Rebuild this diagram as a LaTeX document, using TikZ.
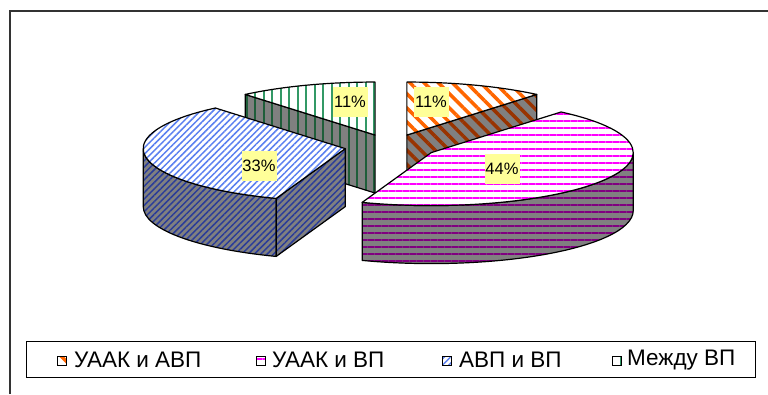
\documentclass[tikz,border=0pt]{standalone}
\usepackage{fontspec}
\setmainfont{Liberation Sans}
\usetikzlibrary{patterns.meta}
\definecolor{piegrey}{HTML}{808080}
\definecolor{labelyellow}{HTML}{FFFF99}
\definecolor{sliceorange}{HTML}{FF6600}
\definecolor{slicebrown}{HTML}{993300}
\definecolor{slicepink}{HTML}{FF00FF}
\definecolor{slicepurple}{HTML}{800080}
\definecolor{sliceblue}{HTML}{5A7FF0}
\definecolor{slicenavy}{HTML}{2A3C99}
\definecolor{slicegreen}{HTML}{339966}
\definecolor{slicedarkgreen}{HTML}{1F5E3A}
\tikzset{
  pieedge/.style={draw=black, line width=1.2pt, line join=round},
  topface/.style={pieedge, preaction={fill=white}},
  sideface/.style={pieedge, preaction={fill=piegrey}},
  pierim/.style={x radius=202pt, y radius=53pt},
  orangetop/.style={pattern={Lines[angle=-45, distance=10pt, line width=3.5pt]}, pattern color=sliceorange},
  orangeside/.style={pattern={Lines[angle=-45, distance=10pt, line width=3.5pt]}, pattern color=slicebrown},
  pinktop/.style={pattern={Lines[angle=0, distance=7pt, line width=2pt]}, pattern color=slicepink},
  pinkside/.style={pattern={Lines[angle=0, distance=7pt, line width=2pt]}, pattern color=slicepurple},
  bluetop/.style={pattern={Lines[angle=45, distance=4.5pt, line width=1.5pt]}, pattern color=sliceblue},
  blueside/.style={pattern={Lines[angle=45, distance=4.5pt, line width=1.5pt]}, pattern color=slicenavy},
  greentop/.style={pattern={Lines[angle=90, distance=8.5pt, line width=2pt]}, pattern color=slicegreen},
  greenside/.style={pattern={Lines[angle=90, distance=8.5pt, line width=2pt]}, pattern color=slicedarkgreen},
  pctlabel/.style={fill=labelyellow, minimum width=35pt, minimum height=30pt, inner sep=0pt, font=\fontsize{16.5}{16.5}\selectfont},
  legendkey/.style={draw=black, line width=0.8pt, preaction={fill=white}, minimum size=9pt, inner sep=0pt},
  legendtext/.style={anchor=west, inner sep=0pt, font=\fontsize{22.5}{22.5}\selectfont}
}

\begin{document}
\begin{tikzpicture}[x=1pt, y=1pt]
  \useasboundingbox (0,0) rectangle (768,-394);
  \draw[line width=1.5pt, black!80] (10,-394) -- (10,-11) -- (768,-11);

  \coordinate (greenc) at ({391+46.46*sin(340)}, {-146.5+12.19*cos(340)});
  \coordinate (orangec) at ({391+46.46*sin(20)}, {-146.5+12.19*cos(20)});
  \coordinate (pinkc) at ({391+46.46*sin(120)}, {-146.5+12.19*cos(120)});
  \coordinate (bluec) at ({391+46.46*sin(260)}, {-146.5+12.19*cos(260)});

  % back slices
  \draw[sideface, greenside] (greenc) -- ++(130:202pt and 53pt) -- ++(0,-58) -- ++(-50:202pt and 53pt) -- cycle;
  \draw[topface, greentop] (greenc) -- ++(130:202pt and 53pt) arc[start angle=130, end angle=90, pierim] -- cycle;
  \draw[sideface, orangeside] (orangec) -- ++(50:202pt and 53pt) -- ++(0,-58) -- ++(230:202pt and 53pt) -- cycle;
  \draw[topface, orangetop] (orangec) -- ++(0,53) arc[start angle=90, end angle=50, pierim] -- cycle;

  % front slices
  \draw[sideface, blueside] (bluec) ++(180:202pt and 53pt) arc[start angle=180, end angle=250, pierim] -- ++(0,-58) arc[start angle=250, end angle=180, pierim] -- cycle;
  \draw[sideface, blueside] (bluec) -- ++(250:202pt and 53pt) -- ++(0,-58) -- ++(70:202pt and 53pt) -- cycle;
  \draw[topface, bluetop] (bluec) -- ++(250:202pt and 53pt) arc[start angle=250, end angle=130, pierim] -- cycle;
  \draw[sideface, pinkside] (pinkc) ++(-110:202pt and 53pt) arc[start angle=-110, end angle=0, pierim] -- ++(0,-58) arc[start angle=0, end angle=-110, pierim] -- cycle;
  \draw[topface, pinktop] (pinkc) -- ++(50:202pt and 53pt) arc[start angle=50, end angle=-110, pierim] -- cycle;

  \node[pctlabel] (orangepct) at (431,-102) {11\%};
  \node[pctlabel] (pinkpct) at (502,-169) {44\%};
  \node[pctlabel] (bluepct) at (259,-166) {33\%};
  \node[pctlabel] (greenpct) at (350,-102) {11\%};

  % legend
  \node[draw=black, line width=0.8pt, minimum width=729pt, minimum height=36pt, inner sep=0pt] (legend) at (390.5,-359) {};
  \node[legendkey, orangetop] (orangekey) at (62,-361) {};
  \node[legendtext] (orangetext) at (74,-360) {УААК и АВП};
  \node[legendkey, pinktop] (pinkkey) at (261,-361) {};
  \node[legendtext] (pinktext) at (272,-360) {УААК и ВП};
  \node[legendkey, bluetop] (bluekey) at (446.5,-361) {};
  \node[legendtext] (bluetext) at (459,-360) {АВП и ВП};
  \node[legendkey, greentop] (greenkey) at (616.5,-361) {};
  \node[legendtext] (greentext) at (627,-360) {Между ВП};
\end{tikzpicture}
\end{document}
